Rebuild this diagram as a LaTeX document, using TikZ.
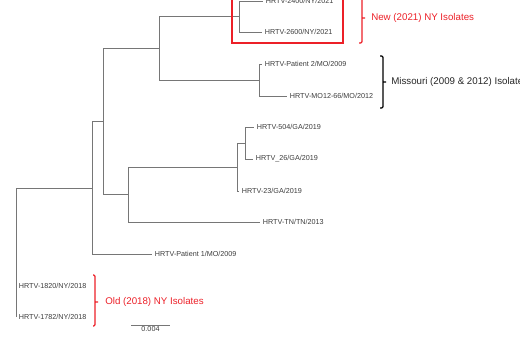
\documentclass[tikz,border=0pt]{standalone}
\usepackage{fontspec}
\setmainfont{Liberation Sans}
\usepackage{xcolor}
\definecolor{isored}{RGB}{236,32,40}
\definecolor{branchgray}{RGB}{118,118,118}
\definecolor{labelgray}{RGB}{60,60,60}

\begin{document}
\begin{tikzpicture}[x=0.75pt,y=0.75pt,yscale=-1,xscale=1,
    branch/.style={draw=branchgray,line width=0.6pt},
    leaf/.style={anchor=west,inner sep=2pt,font=\fontsize{5.4}{6}\selectfont,text=labelgray},
    bracketline/.style={line width=0.9pt,rounded corners=1pt},
    grouplabel/.style={anchor=west,inner sep=0pt,font=\fontsize{7.3}{8}\selectfont}]
    \useasboundingbox (0,0) rectangle (520,337);
    % internal nodes
    \coordinate (nNY) at (239,16.5);
    \coordinate (nMO) at (259,80);
    \coordinate (nA) at (159,48);
    \coordinate (nGA1) at (245,143);
    \coordinate (nGA2) at (237,167);
    \coordinate (nGT) at (128,194.5);
    \coordinate (nB) at (103,121);
    \coordinate (nC) at (92,188);
    \coordinate (root) at (16,188);
    % leaves
    \node[leaf] (l2400) at (263,1) {HRTV-2400/NY/2021};
    \node[leaf] (l2600) at (262,32) {HRTV-2600/NY/2021};
    \node[leaf] (lpat2) at (262,64) {HRTV-Patient 2/MO/2009};
    \node[leaf] (lmo12) at (287,96) {HRTV-MO12-66/MO/2012};
    \node[leaf] (l504) at (254,127) {HRTV-504/GA/2019};
    \node[leaf] (l26) at (253,159) {HRTV\_26/GA/2019};
    \node[leaf] (l23) at (239,191) {HRTV-23/GA/2019};
    \node[leaf] (ltn) at (260,222) {HRTV-TN/TN/2013};
    \node[leaf] (lpat1) at (152,254) {HRTV-Patient 1/MO/2009};
    \node[leaf] (l1820) at (16,286) {HRTV-1820/NY/2018};
    \node[leaf] (l1782) at (16,317) {HRTV-1782/NY/2018};
    % branches
    \draw[branch] (nNY) |- (l2400.west);
    \draw[branch] (nNY) |- (l2600.west);
    \draw[branch] (nMO) |- (lpat2.west);
    \draw[branch] (nMO) |- (lmo12.west);
    \draw[branch] (nA) |- (nNY);
    \draw[branch] (nA) |- (nMO);
    \draw[branch] (nGA1) |- (l504.west);
    \draw[branch] (nGA1) |- (l26.west);
    \draw[branch] (nGA2) |- (nGA1);
    \draw[branch] (nGA2) |- (l23.west);
    \draw[branch] (nGT) |- (nGA2);
    \draw[branch] (nGT) |- (ltn.west);
    \draw[branch] (nB) |- (nA);
    \draw[branch] (nB) |- (nGT);
    \draw[branch] (nC) |- (nB);
    \draw[branch] (nC) |- (lpat1.west);
    \draw[branch] (nC) -- (root) -- (l1782.west);
    % groups
    \draw[isored,line width=1.1pt] (232,-5) rectangle (343,43);
    \draw[isored,bracketline] (359,-3) -- (362,-3) -- (362,43) -- (359,43) (362,18) -- (365,18);
    \node[grouplabel,text=isored] (newlab) at (371,18) {New (2021) NY Isolates};
    \draw[black,bracketline] (380,56) -- (383,56) -- (383,108) -- (380,108) (383,82) -- (386,82);
    \node[grouplabel,text=black!85] (molab) at (391,82) {Missouri (2009 \& 2012) Isolates};
    \draw[isored,bracketline] (93,275) -- (95,275) -- (95,326) -- (93,326) (95,302) -- (98,302);
    \node[grouplabel,text=isored] (oldlab) at (105,302) {Old (2018) NY Isolates};
    % scale bar
    \draw[branch] (131,325) -- (170,325) node[midway,below=1pt,inner sep=0pt,font=\fontsize{5.4}{6}\selectfont,text=labelgray] (scalelab) {0.004};
\end{tikzpicture}
\end{document}
